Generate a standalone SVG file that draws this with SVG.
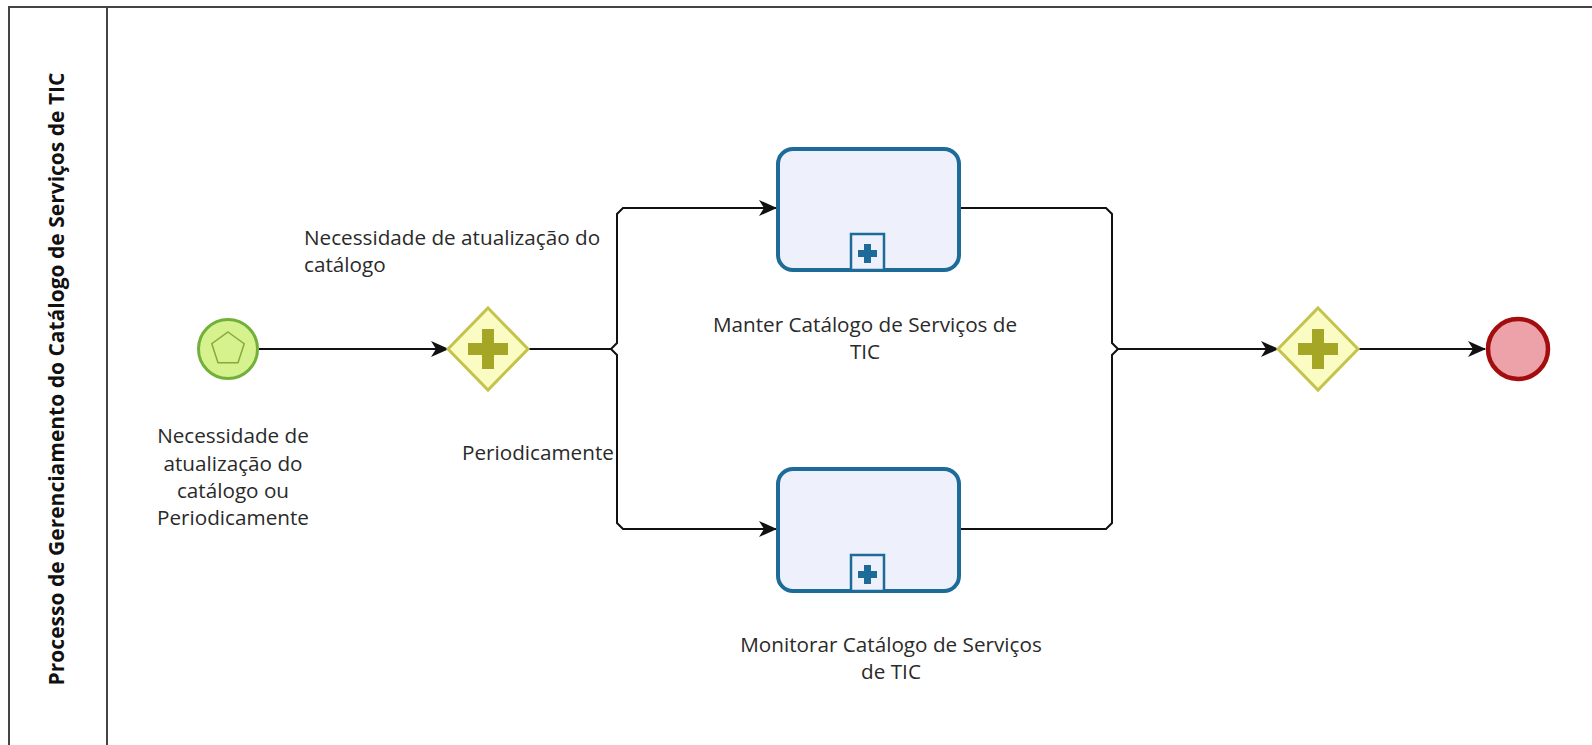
<svg xmlns="http://www.w3.org/2000/svg" width="1592" height="745" viewBox="0 0 1592 745">
<style>
.lbl{font-family:"Open Sans","Noto Sans",sans-serif;font-size:20.7px;fill:#2a2a2a}
.title{font-family:"Open Sans","Noto Sans",sans-serif;font-size:21px;font-weight:bold;fill:#111}
.flow{fill:none;stroke:#111;stroke-width:2}
.task{fill:#eef0fb;stroke:#1d6b98;stroke-width:4}
.gw{fill:#fbfbc4;stroke:#c4c44c;stroke-width:3}
.gwp{fill:#a6a626}
</style>
<defs>
<marker id="arr" viewBox="0 0 18 16" refX="17" refY="8" markerWidth="18" markerHeight="16" markerUnits="userSpaceOnUse" orient="auto">
<path d="M0,0 L18,8 L0,16 L5,8 z" fill="#111"/>
</marker>
</defs>
<rect width="1592" height="745" fill="#ffffff"/>
<g id="pool">
<path d="M1600,7 H9 V760" fill="none" stroke="#444" stroke-width="2"/>
<line x1="107" y1="7" x2="107" y2="760" stroke="#444" stroke-width="2"/>
<text class="title" transform="translate(64,379) rotate(-90)" text-anchor="middle">Processo de Gerenciamento do Catálogo de Serviços de TIC</text>
</g>
<g id="connectors">
<path class="flow" d="M259,349 H448" marker-end="url(#arr)"/>
<path class="flow" d="M527,349 H611 L617,343 V214 L623,208 H776" marker-end="url(#arr)"/>
<path class="flow" d="M527,349 H611 L617,355 V523 L623,529 H776" marker-end="url(#arr)"/>
<path class="flow" d="M960,208 H1106 L1112,214 V343 L1118,349 H1278" marker-end="url(#arr)"/>
<path class="flow" d="M960,529 H1106 L1112,523 V355 L1118,349"/>
<path class="flow" d="M1357,349 H1485" marker-end="url(#arr)"/>
<text class="lbl" x="304" y="245">Necessidade de atualização do</text>
<text class="lbl" x="304" y="272">catálogo</text>
<text class="lbl" x="462" y="460">Periodicamente</text>
</g>
<g id="start">
<circle cx="228" cy="349" r="29.5" fill="#d6f28e" stroke="#72b03a" stroke-width="3"/>
<polygon points="228,332 244.2,343.7 238,362.8 218,362.8 211.8,343.7" fill="none" stroke="#8aa83a" stroke-width="1.5"/>
<text class="lbl" text-anchor="middle" x="233" y="443">Necessidade de</text>
<text class="lbl" text-anchor="middle" x="233" y="471">atualização do</text>
<text class="lbl" text-anchor="middle" x="233" y="498">catálogo ou</text>
<text class="lbl" text-anchor="middle" x="233" y="525">Periodicamente</text>
</g>
<g id="gateway1">
<polygon class="gw" points="488,308 528,349 488,390 448,349"/>
<path class="gwp" d="M482,329 h12 v14 h14 v12 h-14 v14 h-12 v-14 h-14 v-12 h14 z"/>
</g>
<g id="task1">
<rect class="task" x="778" y="149" width="181" height="121" rx="15"/>
<rect x="851" y="234" width="33" height="36" fill="#eef0fb" stroke="#1d6b98" stroke-width="2.5"/>
<path d="M864,244 h7 v6 h6 v7 h-6 v6 h-7 v-6 h-6 v-7 h6 z" fill="#1d6b98"/>
<text class="lbl" text-anchor="middle" x="865" y="332">Manter Catálogo de Serviços de</text>
<text class="lbl" text-anchor="middle" x="865" y="359">TIC</text>
</g>
<g id="task2">
<rect class="task" x="778" y="469" width="181" height="122" rx="15"/>
<rect x="851" y="555" width="33" height="36" fill="#eef0fb" stroke="#1d6b98" stroke-width="2.5"/>
<path d="M864,565 h7 v6 h6 v7 h-6 v6 h-7 v-6 h-6 v-7 h6 z" fill="#1d6b98"/>
<text class="lbl" text-anchor="middle" x="891" y="652">Monitorar Catálogo de Serviços</text>
<text class="lbl" text-anchor="middle" x="891" y="679">de TIC</text>
</g>
<g id="gateway2">
<polygon class="gw" points="1318,308 1358,349 1318,390 1278,349"/>
<path class="gwp" d="M1312,329 h12 v14 h14 v12 h-14 v14 h-12 v-14 h-14 v-12 h14 z"/>
</g>
<g id="end">
<circle cx="1518" cy="349" r="30" fill="#eda2aa" stroke="#a30d0d" stroke-width="4.5"/>
</g>
</svg>
